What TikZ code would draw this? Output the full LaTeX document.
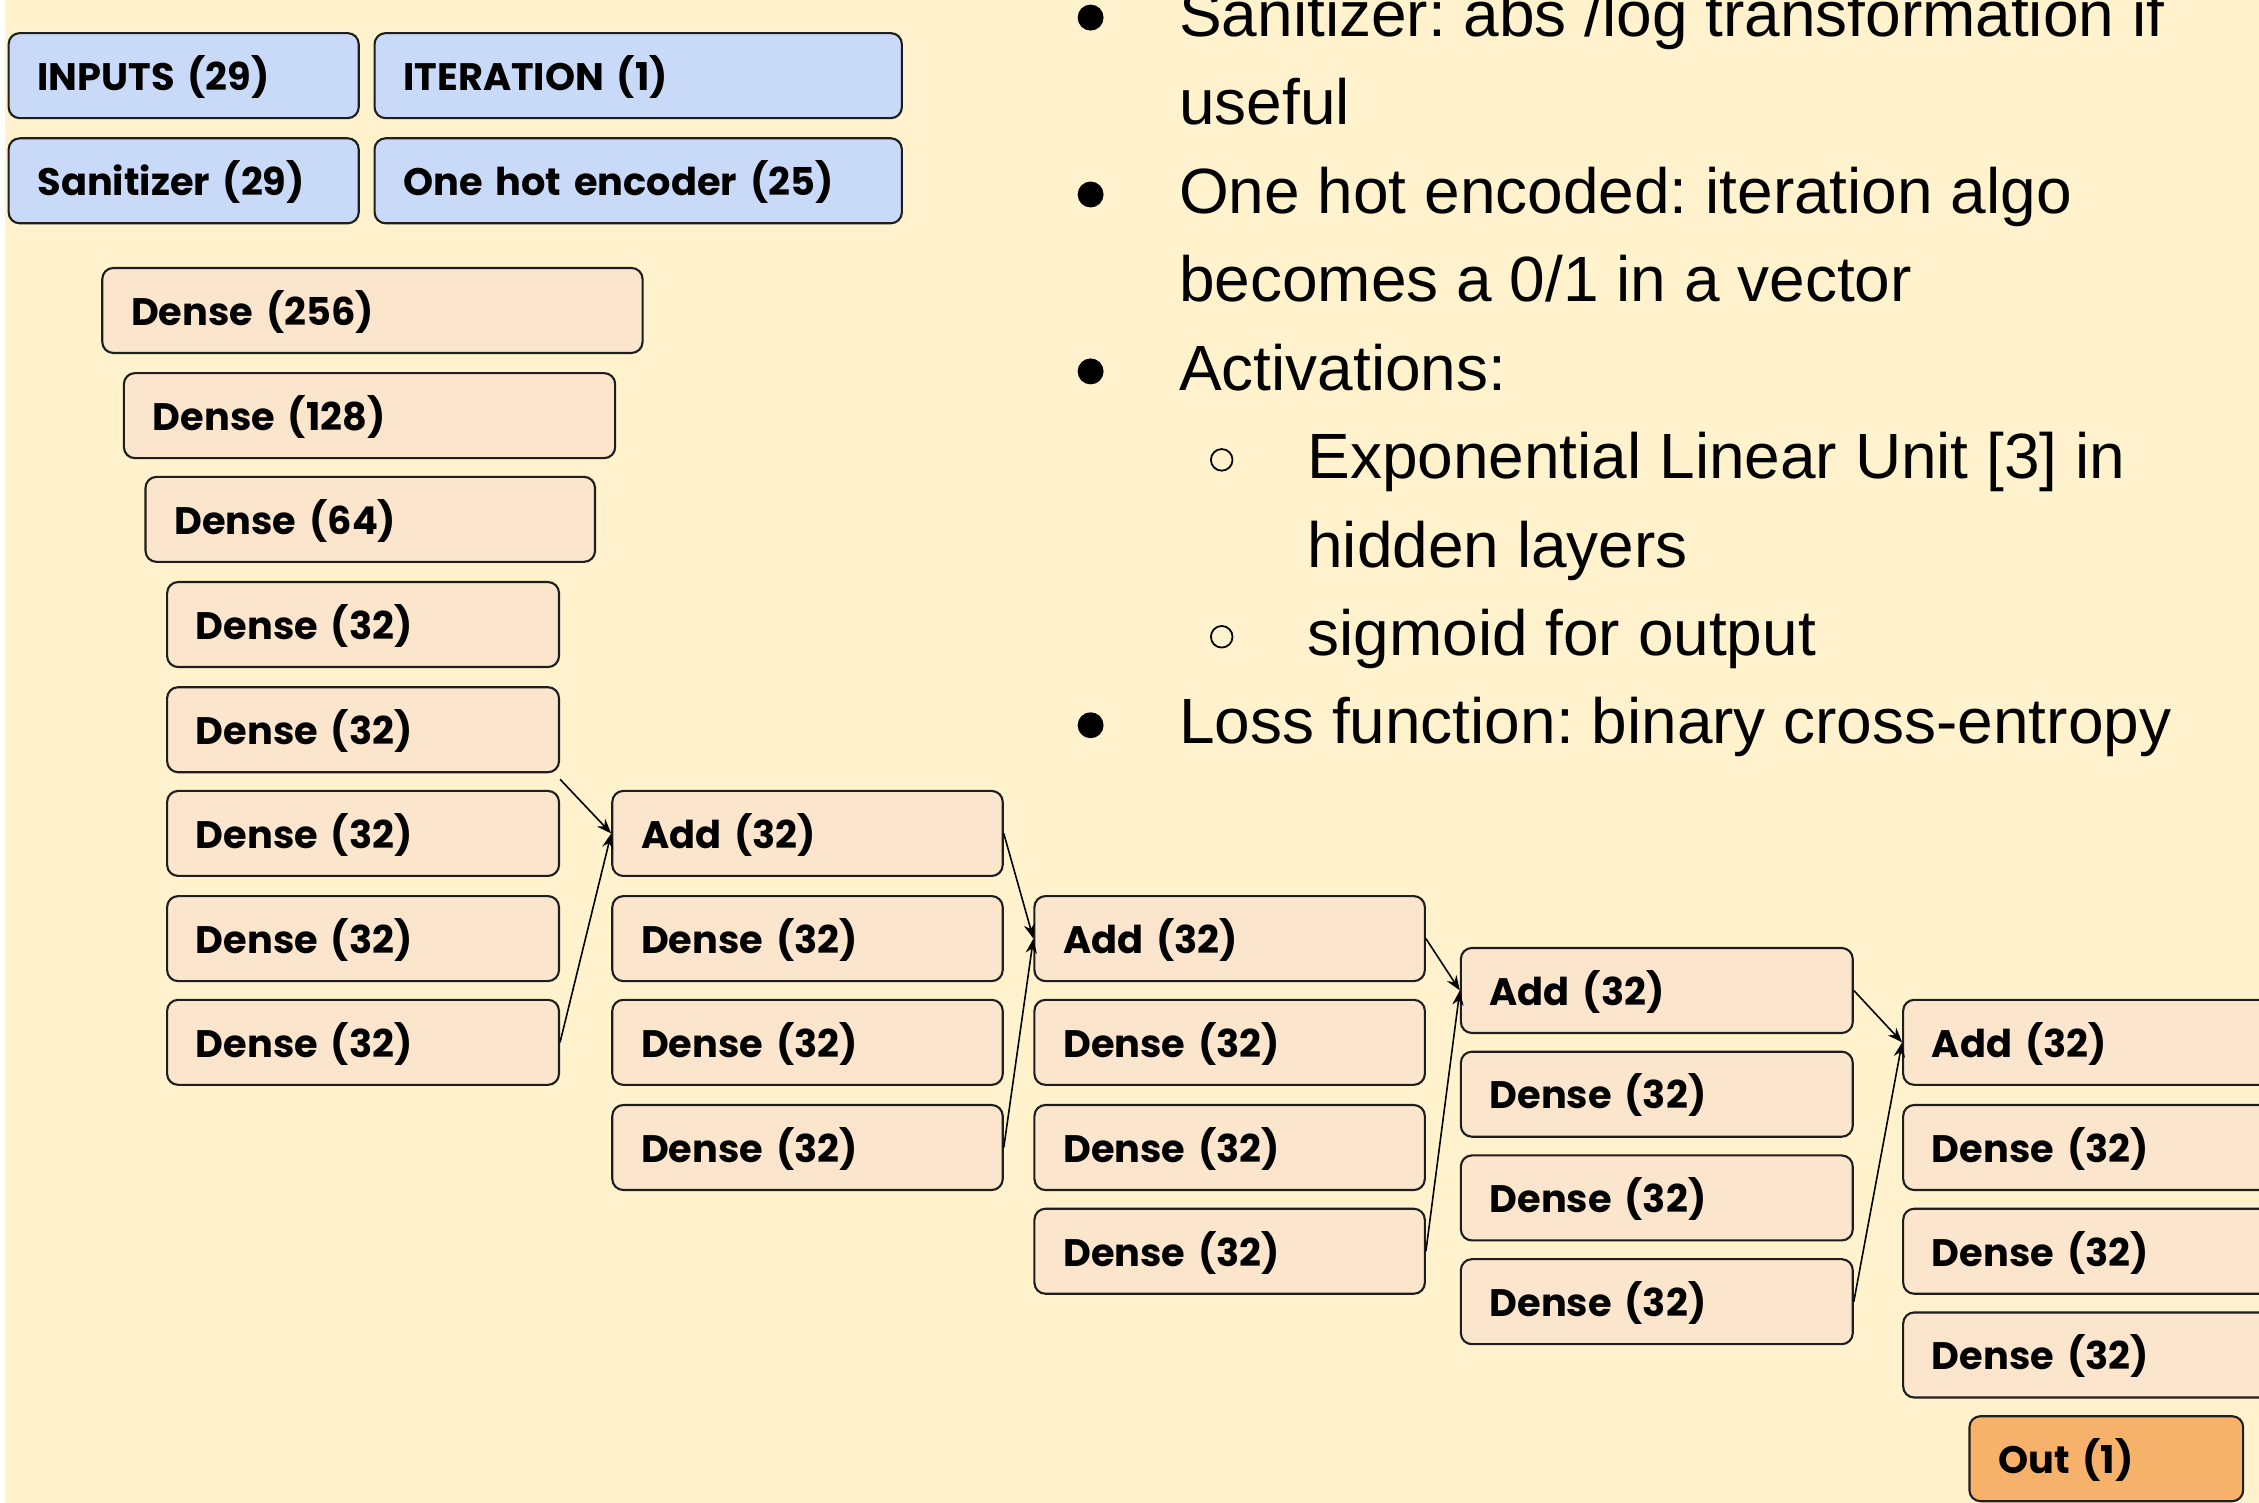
\documentclass[tikz,border=0pt]{standalone}
\usepackage{fontspec}
\setmainfont{Liberation Sans}
\newfontfamily\boxfont{Poppins}[WordSpace=0.7]
\usetikzlibrary{arrows.meta}
\frenchspacing

\definecolor{slidebg}{HTML}{FFF2CC}
\definecolor{inblue}{HTML}{C9DAF8}
\definecolor{layerpeach}{HTML}{FCE5CD}
\definecolor{outorange}{HTML}{F6B26B}
\definecolor{edgegray}{HTML}{1E1E1E}

% one drawing unit = 0.014407cm
% \blk{name}{style}{x1}{y1}{x2}{y2}{label}
\newcommand{\blk}[7]{%
  \node[#2,
        minimum width={(#5-#3)*0.014407cm},
        minimum height={(#6-#4)*0.014407cm},
        text width={(#5-#3-40)*0.014407cm}]
    (#1) at ({(#3+#5)/2},{(#4+#6)/2}) {#7};}

\tikzset{
  layerbox/.style={draw=edgegray, line width=0.6pt, rounded corners=0.11cm,
    fill=layerpeach, align=left, inner xsep=0.288cm, inner ysep=0pt,
    text height=0.84em, text depth=0pt,
    font=\boxfont\bfseries\fontsize{10.9}{13}\selectfont},
  inputbox/.style={layerbox, fill=inblue},
  outbox/.style={layerbox, fill=outorange},
  conn/.style={draw=black, line width=0.45pt, -{Stealth[length=4.2pt,width=3.2pt]}},
  listtext/.style={anchor=base west, inner sep=0pt,
    font=\fontsize{18.2}{22}\selectfont},
  dotmark/.style={fill=black},
  ringmark/.style={draw=black, line width=0.5pt}
}

\begin{document}
\begin{tikzpicture}[x=0.014407cm, y=-0.014407cm]
\useasboundingbox (0,0) rectangle (1568,1043);
\clip (0,0) rectangle (1568,1043);
\fill[white] (0,0) rectangle (1568,1043);
\fill[slidebg] (3.5,0) rectangle (1568,1043);

% ---------- notes on the right ----------
\node[listtext] (n0) at (818,25.2)  {Sanitizer: abs /log transformation if};
\node[listtext] (n1) at (818,86.6)  {useful};
\node[listtext] (n2) at (818,148.0) {One hot encoded: iteration algo};
\node[listtext] (n3) at (818,209.4) {becomes a 0/1 in a vector};
\node[listtext] (n4) at (818,270.8) {Activations:};
\node[listtext] (n5) at (907,332.2) {Exponential Linear Unit [3] in};
\node[listtext] (n6) at (907,393.6) {hidden layers};
\node[listtext] (n7) at (907,455.0) {sigmoid for output};
\node[listtext] (n8) at (818,516.4) {Loss function: binary cross-entropy};

\foreach \b in {25.2,148.0,270.8,516.4}
  \fill[dotmark] (757,\b-13) circle [radius=9];
\foreach \b in {332.2,455.0}
  \draw[ringmark] (848,\b-13) circle [radius=7.5];

% ---------- input blocks ----------
\blk{inp}{inputbox}{6}{23}{249}{82}{INPUTS (29)}
\blk{iter}{inputbox}{260}{23}{626}{82}{ITERATION (1)}
\blk{san}{inputbox}{6}{96}{249}{155}{Sanitizer (29)}
\blk{ohe}{inputbox}{260}{96}{626}{155}{One hot encoder (25)}

% ---------- funnel of dense layers ----------
\blk{d256}{layerbox}{71}{186}{446}{245}{Dense (256)}
\blk{d128}{layerbox}{86}{259}{427}{318}{Dense (128)}
\blk{d64}{layerbox}{101}{331}{413}{390}{Dense (64)}

% column 1
\blk{c1a}{layerbox}{116}{404}{388}{463}{Dense (32)}
\blk{c1b}{layerbox}{116}{477}{388}{536}{Dense (32)}
\blk{c1c}{layerbox}{116}{549}{388}{608}{Dense (32)}
\blk{c1d}{layerbox}{116}{622}{388}{681}{Dense (32)}
\blk{c1e}{layerbox}{116}{694}{388}{753}{Dense (32)}

% column 2
\blk{a2}{layerbox}{425}{549}{696}{608}{Add (32)}
\blk{c2b}{layerbox}{425}{622}{696}{681}{Dense (32)}
\blk{c2c}{layerbox}{425}{694}{696}{753}{Dense (32)}
\blk{c2d}{layerbox}{425}{767}{696}{826}{Dense (32)}

% column 3
\blk{a3}{layerbox}{718}{622}{989}{681}{Add (32)}
\blk{c3b}{layerbox}{718}{694}{989}{753}{Dense (32)}
\blk{c3c}{layerbox}{718}{767}{989}{826}{Dense (32)}
\blk{c3d}{layerbox}{718}{839}{989}{898}{Dense (32)}

% column 4
\blk{a4}{layerbox}{1014}{658}{1286}{717}{Add (32)}
\blk{c4b}{layerbox}{1014}{730}{1286}{789}{Dense (32)}
\blk{c4c}{layerbox}{1014}{802}{1286}{861}{Dense (32)}
\blk{c4d}{layerbox}{1014}{874}{1286}{933}{Dense (32)}

% column 5
\blk{a5}{layerbox}{1321}{694}{1593}{753}{Add (32)}
\blk{c5b}{layerbox}{1321}{767}{1593}{826}{Dense (32)}
\blk{c5c}{layerbox}{1321}{839}{1593}{898}{Dense (32)}
\blk{c5d}{layerbox}{1321}{911}{1593}{970}{Dense (32)}

\blk{out}{outbox}{1367}{983}{1557}{1042}{Out (1)}

% ---------- residual connections ----------
\draw[conn] ([yshift=-0.06cm]c1b.south east) -- (a2.west);
\draw[conn] (c1e.east) -- (a2.west);
\draw[conn] (a2.east) -- (a3.west);
\draw[conn] (c2d.east) -- (a3.west);
\draw[conn] (a3.east) -- (a4.west);
\draw[conn] (c3d.east) -- (a4.west);
\draw[conn] (a4.east) -- (a5.west);
\draw[conn] (c4d.east) -- (a5.west);
\end{tikzpicture}
\end{document}
